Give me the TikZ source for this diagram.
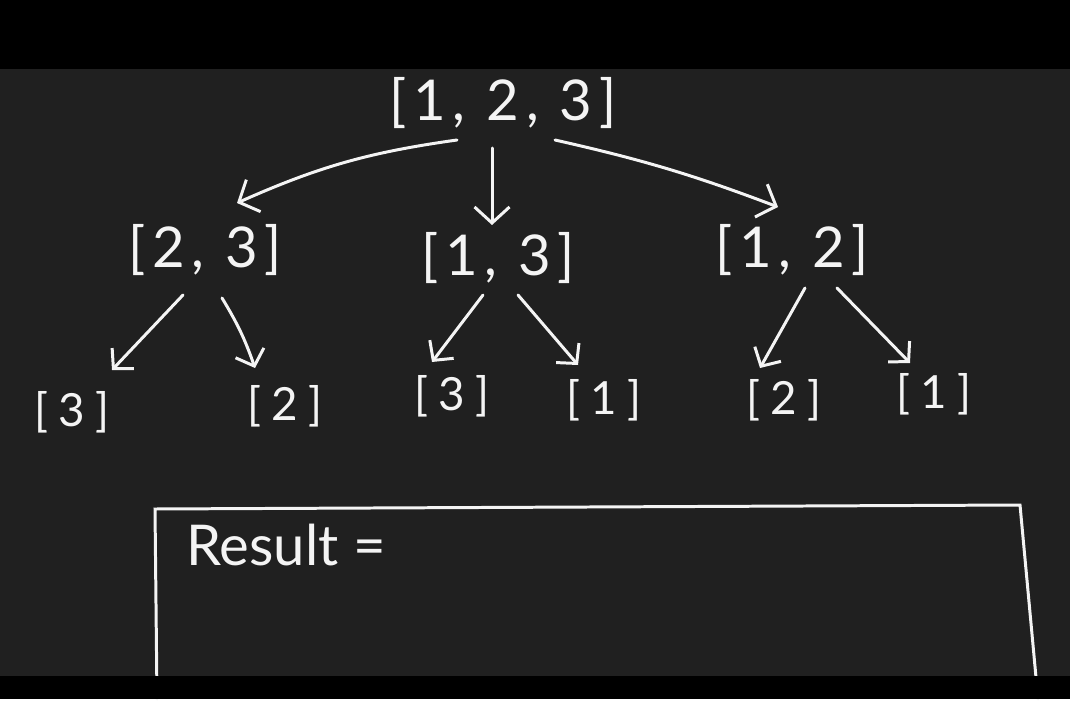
\documentclass[tikz,border=0pt]{standalone}
\usepackage{fontspec}
\setmainfont{Lato}
\newfontfamily\handfont[LetterSpace=12]{Lato}
\newfontfamily\leaffont[LetterSpace=22]{Lato}
\usetikzlibrary{arrows.meta,calc}
\definecolor{boardgray}{HTML}{202020}
\definecolor{chalk}{HTML}{F4F4F4}

\begin{document}
\begin{tikzpicture}[
  x=0.2mm,y=-0.2mm,
  every node/.style={text=chalk,inner sep=0pt},
  big/.style={font=\handfont\fontsize{32}{36}\selectfont},
  leaf/.style={font=\leaffont\fontsize{26}{28}\selectfont},
  arr/.style={chalk,line width=1.7pt,line cap=round,
    -{Straight Barb[length=3.2mm,width=7mm,line width=1.7pt]}},
  smallarr/.style={arr,-{Straight Barb[length=2.8mm,width=6mm,line width=1.7pt]}}
]

% ---- board and black bands ----
\fill[boardgray] (0,0) rectangle (1070,699);
\fill[black] (0,0) rectangle (1070,69);

% ---- permutations tree ----
\node[big] (root) at (503,103) {[1, 2, 3]};

\node[big] (l) at (205,250) {[2, 3]};
\node[big] (m) at (498,258) {[1, 3]};
\node[big] (r) at (792,250) {[1, 2]};

\node[leaf] (ll) at (72,412) {[3]};
\node[leaf] (lr) at (285,406) {[2]};
\node[leaf] (ml) at (452,396) {[3]};
\node[leaf] (mr) at (604,400) {[1]};
\node[leaf] (rl) at (784,400) {[2]};
\node[leaf] (rr) at (934,394) {[1]};

% ---- first level arrows ----
\draw[arr] ($(root)+(-46,37)$) to[bend right=8] ($(l)+(32,-47)$);
\draw[arr] ($(root)+(-11,45)$) -- ($(m)+(-6,-33)$);
\draw[arr] ($(root)+(52,37)$) to[bend left=4] ($(r)+(-14,-43)$);

% ---- second level arrows ----
\draw[smallarr] ($(l)+(-22,45)$) -- ($(ll)+(40,-42)$);
\draw[smallarr] ($(l)+(17,48)$) to[bend left=6] ($(lr)+(-30,-38)$);
\draw[smallarr] ($(m)+(-15,37)$) -- ($(ml)+(-20,-34)$);
\draw[smallarr] ($(m)+(20,37)$) -- ($(mr)+(-26,-35)$);
\draw[smallarr] ($(r)+(13,38)$) -- ($(rl)+(-24,-32)$);
\draw[smallarr] ($(r)+(45,38)$) -- ($(rr)+(-24,-31)$);

% ---- result box (open at the bottom) ----
\draw[chalk,line width=1.7pt,line cap=round]
  (157,699) -- (155,509) -- (1020,505) -- (1038,699);
\node[font=\fontsize{32}{36}\selectfont,anchor=west] (res) at (186,545) {Result =};

\fill[black] (0,676) rectangle (1070,699);
\end{tikzpicture}
\end{document}
